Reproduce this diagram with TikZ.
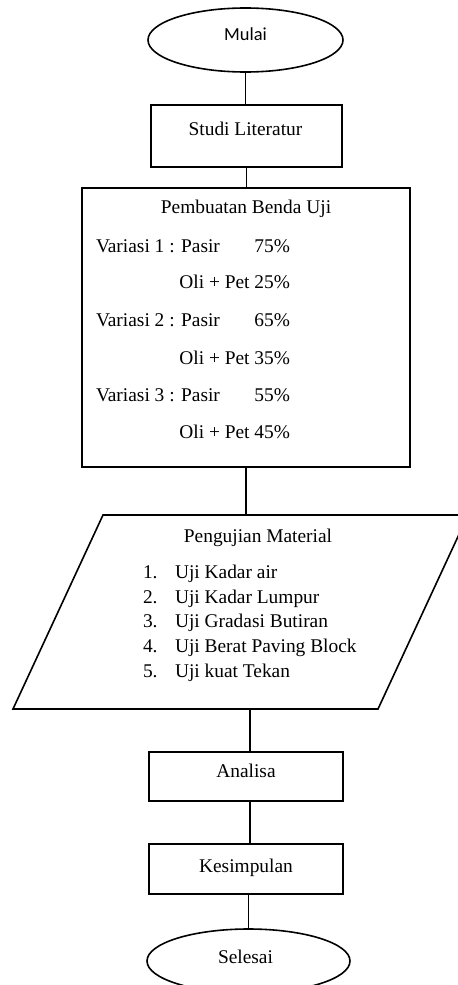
\documentclass[tikz,border=0pt]{standalone}
\usepackage{fontspec}
\setmainfont{Liberation Serif}
\newfontfamily\calfont{Carlito}
\usetikzlibrary{shapes.geometric}
\begin{document}
\begin{tikzpicture}[x=0.5pt,y=-0.5pt,
  line width=0.8pt,
  every node/.style={inner sep=0pt,outer sep=0pt},
  boxst/.style={draw,rectangle},
  ovalst/.style={draw,ellipse},
  txt/.style={font=\fontsize{9.7pt}{11pt}\selectfont,anchor=base},
  txtw/.style={txt,anchor=base west},
  txte/.style={txt,anchor=base east},
  conn/.style={draw,line width=0.8pt}]
\useasboundingbox (0,0) rectangle (458,985);
\fill[white] (0,0) rectangle (458,985);

% shapes
\node[ovalst,minimum width=97.5pt,minimum height=32pt] (mulai) at (245.5,40) {};
\node[boxst,minimum width=95.5pt,minimum height=31pt] (studi) at (246.5,136) {};
\node[boxst,minimum width=164pt,minimum height=139.5pt] (benda) at (246,327.5) {};
\node[minimum width=227.5pt,minimum height=97pt] (uji) at (240.5,612) {};
\draw (uji.south west) -- ([xshift=45pt]uji.north west) -- (uji.north east) -- ([xshift=-45pt]uji.south east) -- cycle;
\node[boxst,minimum width=97pt,minimum height=24.5pt] (analisa) at (246,776.5) {};
\node[boxst,minimum width=97pt,minimum height=25pt] (kes) at (246,869) {};
\node[ovalst,minimum width=101.5pt,minimum height=32pt] (selesai) at (248.5,961) {};

% connectors
\draw[conn] (mulai.south) -- (mulai.south |- studi.north);
\draw[conn] (studi.south) -- (studi.south |- benda.north);
\draw[conn] (benda.south) -- (benda.south |- uji.north);
\draw[conn] ([xshift=2pt]analisa.north) -- ([xshift=2pt]analisa.north |- uji.south);
\draw[conn] ([xshift=2pt]analisa.south) -- ([xshift=2pt]analisa.south |- kes.north);
\draw[conn] (selesai.north) -- (selesai.north |- kes.south);

% texts
\node[txt,font=\calfont\fontsize{9.2pt}{11pt}\selectfont] (tmulai) at (245.5,40) {Mulai};
\node[txt] (tstudi) at (245.5,135) {Studi Literatur};

\node[txt] (tbenda) at (246,213) {Pembuatan Benda Uji};
\node[txtw] (v1) at (96,252) {Variasi 1 : Pasir};
\node[txte] (p1) at (290,252) {75\%};
\node[txte] (o1) at (290,288.5) {Oli + Pet 25\%};
\node[txtw] (v2) at (96,326) {Variasi 2 : Pasir};
\node[txte] (p2) at (290,326) {65\%};
\node[txte] (o2) at (290,364) {Oli + Pet 35\%};
\node[txtw] (v3) at (96,401) {Variasi 3 : Pasir};
\node[txte] (p3) at (290,401) {55\%};
\node[txte] (o3) at (290,438) {Oli + Pet 45\%};

\node[txt] (tuji) at (258,542) {Pengujian Material};
\node[txtw] (n1) at (143,578.5) {1.};
\node[txtw] (l1) at (175,578.5) {Uji Kadar air};
\node[txtw] (n2) at (143,603.2) {2.};
\node[txtw] (l2) at (175,603.2) {Uji Kadar Lumpur};
\node[txtw] (n3) at (143,627.9) {3.};
\node[txtw] (l3) at (175,627.9) {Uji Gradasi Butiran};
\node[txtw] (n4) at (143,652.6) {4.};
\node[txtw] (l4) at (175,652.6) {Uji Berat Paving Block};
\node[txtw] (n5) at (143,677.3) {5.};
\node[txtw] (l5) at (175,677.3) {Uji kuat Tekan};

\node[txt] (tanalisa) at (246,777) {Analisa};
\node[txt] (tkes) at (246,872) {Kesimpulan};
\node[txt] (tselesai) at (245.5,963) {Selesai};
\end{tikzpicture}
\end{document}
